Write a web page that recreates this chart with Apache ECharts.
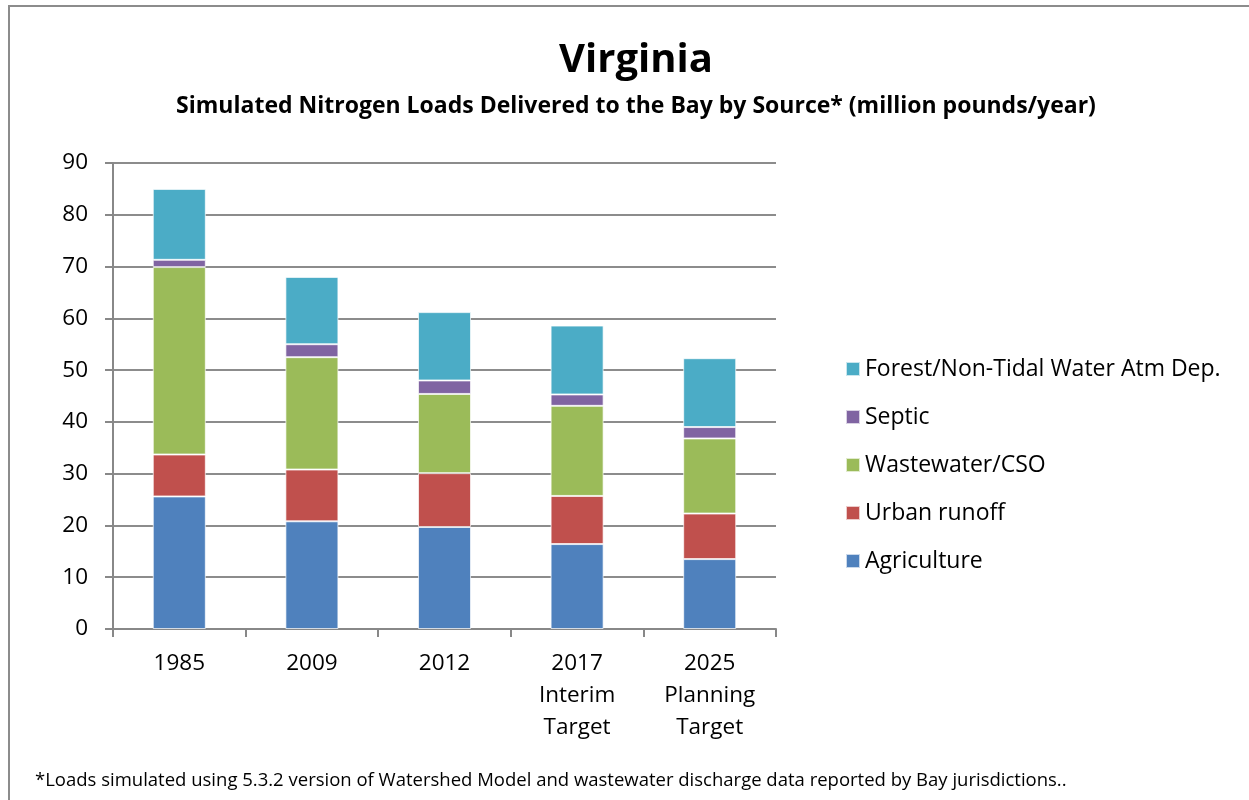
<!DOCTYPE html>
<html>
<head>
<meta charset="utf-8">
<script src="https://cdn.jsdelivr.net/npm/echarts@6/dist/echarts.min.js"></script>
<style>
  body { margin: 0; background: #fff; }
  #frame {
    position: absolute; left: 8px; top: 5px; width: 1260px; height: 820px;
    border: 2px solid #8c8c8c; box-sizing: border-box;
  }
  #chart { position: absolute; left: 0; top: 0; width: 1249px; height: 800px; }
</style>
</head>
<body>
<div id="frame"></div>
<div id="chart"></div>
<script>
// categories and loads (million pounds/year)
const years = ["1985", "2009", "2012", "2017\nInterim\nTarget", "2025\nPlanning\nTarget"];
const agriculture = [25.6, 20.8, 19.7, 16.4, 13.5];
const urbanRunoff = [8.1, 10.0, 10.4, 9.3, 8.8];
const wastewater = [36.2, 21.7, 15.3, 17.4, 14.5];
const septic = [1.4, 2.5, 2.6, 2.2, 2.2];
const forest = [13.7, 13.0, 13.2, 13.3, 13.3];
const yTicks = [0, 10, 20, 30, 40, 50, 60, 70, 80, 90];

const font = "Open Sans";
let chart = echarts.init(document.getElementById("chart"));

function stackBar(name, data, color) {
  return {
    name: name,
    type: "bar",
    stack: "total",
    barWidth: "40%",
    data: data,
    itemStyle: { color: color, borderColor: "rgba(255,255,255,0.7)", borderWidth: 1 },
  };
}

chart.setOption({
  animation: false,
  title: [
    {
      text: "Virginia",
      left: 631,
      top: 36,
      textAlign: "center",
      textStyle: { fontFamily: font, fontSize: 40, fontWeight: "bold", color: "#000" },
    },
    {
      text: "Simulated Nitrogen Loads Delivered to the Bay by Source* (million pounds/year)",
      left: 631,
      top: 90,
      textAlign: "center",
      textStyle: { fontFamily: font, fontSize: 23, fontWeight: "bold", color: "#000" },
    },
    {
      text: "*Loads simulated using 5.3.2 version of Watershed Model and wastewater discharge data reported by Bay jurisdictions..",
      left: 30,
      top: 766,
      textStyle: { fontFamily: font, fontSize: 18.5, fontWeight: "normal", color: "#000" },
    },
  ],
  legend: {
    orient: "vertical",
    left: 840,
    top: 352,
    icon: "rect",
    itemWidth: 14,
    itemHeight: 14,
    itemGap: 24,
    textStyle: { fontFamily: font, fontSize: 23, color: "#000", lineHeight: 24 },
    data: ["Forest/Non-Tidal Water Atm Dep.", "Septic", "Wastewater/CSO", "Urban runoff", "Agriculture"],
  },
  grid: { left: 113, right: 473, top: 163, bottom: 171 },
  xAxis: {
    type: "category",
    data: years,
    axisLine: { lineStyle: { color: "#888", width: 2 } },
    axisTick: { show: true, length: 8, lineStyle: { color: "#888", width: 2 } },
    axisLabel: { fontFamily: font, fontSize: 22.5, color: "#000", lineHeight: 32, margin: 19 },
  },
  yAxis: {
    type: "value",
    min: yTicks[0],
    max: yTicks[yTicks.length - 1],
    interval: 10,
    axisLine: { show: true, lineStyle: { color: "#888", width: 2 } },
    axisTick: { show: true, length: 8, lineStyle: { color: "#888", width: 2 } },
    axisLabel: { fontFamily: font, fontSize: 22.5, color: "#000", margin: 25 },
    splitLine: { lineStyle: { color: "#8c8c8c", width: 2 } },
  },
  series: [
    stackBar("Agriculture", agriculture, "#4F81BD"),
    stackBar("Urban runoff", urbanRunoff, "#C0504D"),
    stackBar("Wastewater/CSO", wastewater, "#9BBB59"),
    stackBar("Septic", septic, "#8064A2"),
    stackBar("Forest/Non-Tidal Water Atm Dep.", forest, "#4BACC6"),
  ],
});
</script>
</body>
</html>
